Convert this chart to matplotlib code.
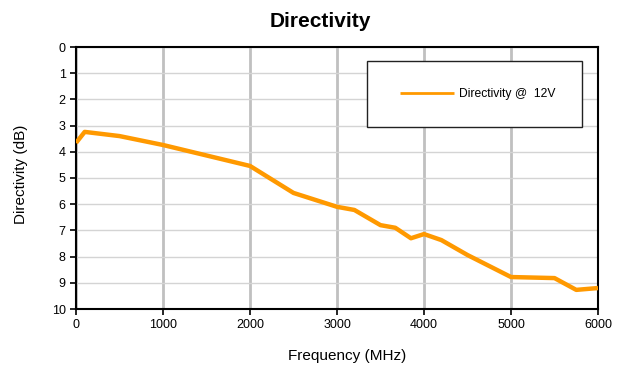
import numpy as np
import matplotlib
matplotlib.use("Agg")
import matplotlib.pyplot as plt
from matplotlib.patches import Rectangle

plt.rcParams['font.family'] = ['Liberation Sans', 'DejaVu Sans']

freq = [0, 100, 500, 1000, 2000, 2500, 3000, 3200, 3500, 3670, 3850, 4000,
        4200, 4500, 5000, 5500, 5750, 6000]
directivity = [3.66, 3.24, 3.4, 3.74, 4.54, 5.57, 6.1, 6.22, 6.8, 6.9, 7.3, 7.14,
               7.37, 7.94, 8.78, 8.82, 9.27, 9.2]

W, H = 617, 366
fig = plt.figure(figsize=(W / 100, H / 100), dpi=100)
ax = fig.add_axes([76/W, 1 - 309/H, 522/W, 262/H])

ax.plot(freq, directivity, color='#FF9900', lw=3.2, solid_capstyle='butt',
        label='Directivity @  12V', zorder=3)

ax.set_xlim(0, 6000)
ax.set_ylim(10, 0)
ax.set_xticks(np.arange(0, 6001, 1000))
ax.set_yticks(np.arange(0, 11, 1))
ax.xaxis.grid(True, color='#c0c0c0', lw=2)
ax.yaxis.grid(True, color='#d4d4d4', lw=1)
ax.set_axisbelow(True)
for s in ax.spines.values():
    s.set_linewidth(1.5)
ax.tick_params(direction='out', length=4, width=1.2, labelsize=9)

fig.text(320/W, 1 - 27/H, 'Directivity', fontsize=15, fontweight='bold',
         ha='center', va='baseline')
fig.text(347/W, 1 - 360/H, 'Frequency (MHz)', fontsize=11,
         ha='center', va='baseline')
fig.text(21/W, 1 - 174/H, 'Directivity (dB)', fontsize=11, rotation=90,
         ha='center', va='center')

# legend box
x0, x1 = (367 - 76) / 522, (582 - 76) / 522
y0, y1 = 1 - (127 - 47) / 262, 1 - (61 - 47) / 262
ax.add_patch(Rectangle((x0, y0), x1 - x0, y1 - y0, transform=ax.transAxes,
                       facecolor='white', edgecolor='#222222', lw=1, zorder=4))
leg = ax.legend(loc='center', bbox_to_anchor=((x0 + x1) / 2 + 3/522, (y0 + y1) / 2),
                frameon=False, fontsize=8.7, handlelength=4.5, handletextpad=0.4)
leg.get_lines()[0].set_linewidth(2)

plt.savefig("out.png", dpi=100)
